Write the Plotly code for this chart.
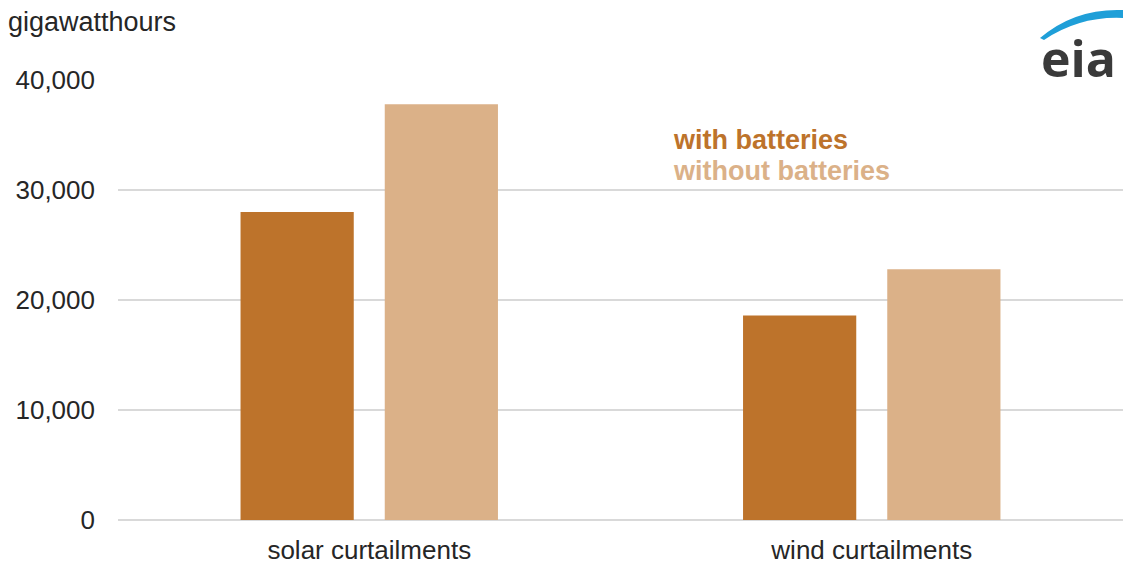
import plotly.graph_objects as go

# Curtailed generation, gigawatthours
categories = ["solar curtailments", "wind curtailments"]
with_batteries = [28000, 18600]
without_batteries = [37800, 22800]
y_ticks = [0, 10000, 20000, 30000, 40000]
y_tick_labels = ["0", "10,000", "20,000", "30,000", "40,000"]

DARK = "#BD732B"
LIGHT = "#DBB188"
FONT = "Liberation Sans, Arial, sans-serif"

fig = go.Figure()
fig.add_trace(go.Bar(name="with batteries", x=categories, y=with_batteries,
                     marker=dict(color=DARK, line=dict(width=0))))
fig.add_trace(go.Bar(name="without batteries", x=categories, y=without_batteries,
                     marker=dict(color=LIGHT, line=dict(width=0))))

fig.update_layout(
    width=1123, height=565,
    margin=dict(l=118, r=0, t=80, b=45, autoexpand=False),
    paper_bgcolor="white", plot_bgcolor="white",
    barmode="group", bargap=0.426, bargroupgap=0.215,
    showlegend=False,
    font=dict(family=FONT, size=26, color="#262626"),
)
fig.update_xaxes(
    range=[-0.5, 1.5], showgrid=False, showline=False, ticks="", automargin=False,
    ticklabelstandoff=12, tickfont=dict(size=26, color="#262626"),
)
fig.update_yaxes(
    range=[0, 40000], tickvals=y_ticks, ticktext=y_tick_labels, automargin=False,
    showgrid=True, gridcolor="#D9D9D9", gridwidth=2,
    zeroline=True, zerolinecolor="#D9D9D9", zerolinewidth=2,
    showline=False, ticks="", ticklabelstandoff=22,
    tickfont=dict(size=26, color="#262626"),
)


def px(x):
    return (x - 118) / 1005


def py(y):
    return (520 - y) / 440


# Axis unit label
fig.add_annotation(text="gigawatthours", xref="paper", yref="paper",
                   x=px(6), y=py(22), xanchor="left", yanchor="middle",
                   showarrow=False, font=dict(size=27, color="#262626"))

# Series key drawn as colored text
fig.add_annotation(text="<b>with batteries</b>", xref="paper", yref="paper",
                   x=px(671), y=py(140), xanchor="left", yanchor="middle",
                   showarrow=False, font=dict(size=27, color=DARK))
fig.add_annotation(text="<b>without batteries</b>", xref="paper", yref="paper",
                   x=px(671), y=py(171), xanchor="left", yanchor="middle",
                   showarrow=False, font=dict(size=27, color=LIGHT))

# eia logo: wordmark and blue swoosh
fig.add_annotation(text="<b>eia</b>", xref="paper", yref="paper",
                   x=px(1078), y=py(58), xanchor="center", yanchor="middle",
                   showarrow=False, font=dict(size=50, color="#3A3A3A", family="Open Sans, sans-serif"))

fig.add_shape(type="path", xref="paper", yref="paper",
              path=(f"M {px(1040)} {py(38)} "
                    f"Q {px(1075)} {py(8)} {px(1123)} {py(10)} "
                    f"L {px(1123)} {py(18)} "
                    f"Q {px(1080)} {py(16)} {px(1044)} {py(40)} Z"),
              fillcolor="#1F9FD8", line=dict(width=0))

fig.write_html("out.html")
